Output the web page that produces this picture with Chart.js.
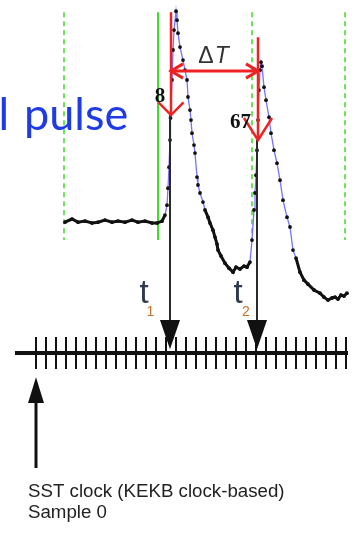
<!DOCTYPE html>
<html>
<head>
<meta charset="utf-8">
<script src="https://cdn.jsdelivr.net/npm/chart.js@4.4.1/dist/chart.umd.min.js"></script>
<style>
  html, body { margin: 0; padding: 0; background: #fff; }
  canvas { display: block; }
</style>
</head>
<body>
<canvas id="pulseChart" width="362" height="533"></canvas>
<script>
// x: SST clock samples (tick 0 = "Sample 0"), y: amplitude, baseline = 0
const sampleX = [
  2.9, 3.6, 4.2, 4.9, 5.6, 6.2, 6.9, 7.6, 8.2, 8.9, 9.6, 10.2, 10.9, 11.6, 12.1, 12.6,
  12.9, 13.1, 13.2, 13.3, 13.4, 13.45, 13.6, 13.7, 13.8, 14.0,
  14.1, 14.2, 14.4, 14.7, 14.9, 15.1, 15.2, 15.4, 15.5, 15.6, 15.8, 15.9, 16.1, 16.2, 16.4, 16.7,
  16.9, 17.2, 17.4, 17.7, 17.9, 18.1, 18.2, 18.5, 18.9, 19.3, 19.7, 20.0, 20.4, 20.8, 21.1, 21.4,
  21.6, 21.8, 21.9, 22.0, 22.1, 22.2, 22.3, 22.4, 22.5,
  22.6, 22.8, 23.0, 23.3, 23.5, 23.8, 24.1, 24.4, 24.7, 25.1, 25.4, 25.7, 26.0,
  26.4, 26.8, 27.2, 27.8, 28.4, 28.8, 29.2, 29.6, 29.9, 30.2, 30.5, 30.8, 31.1
];
const amplitude = [
  -1.0, 0.5, -1.0, -0.5, -1.4, -1.0, 0, -1.0, -0.5, -1.0, 0, -1.0, -0.5, -1.4, -1.4, -0.5,
  2.4, 7.1, 15.2, 25.2, 38.1, 48.6, 66.7, 81.0, 90.5, 99.5,
  95.2, 89.0, 82.4, 76.2, 71.4, 66.7, 58.6, 52.4, 47.6, 41.4, 35.7, 31.9, 20.5, 16.7, 12.9, 8.6,
  4.8, 1.4, -1.4, -4.8, -8.1, -11.4, -14.3, -17.1, -20.5, -22.9, -24.8, -22.4, -23.3, -21.9, -22.4, -20.0,
  -9.5, 4.8, 12.9, 21.4, 33.3, 47.6, 61.9, 71.4, 75.2,
  73.3, 63.3, 57.1, 49.0, 41.4, 33.3, 27.1, 19.0, 9.5, 1.4, -3.3, -14.3, -18.1,
  -24.8, -28.6, -30.5, -33.3, -34.8, -36.7, -38.1, -37.1, -36.7, -37.6, -35.7, -36.2, -34.8
];
// parts of the trace drawn as the thick black noisy line
const noiseRanges = [[2.9, 12.9], [16.9, 21.4], [26.0, 31.1]];

const frameEdges = [2.8, 21.6, 30.9];   // dashed green
const triggerEdge = 12.2;               // solid green
const frameTop = 99.0;
const frameBottom = -9.5;

// timing marks
const hitSamples = [13.5, 22.2];
const hitLabels = ['8', '67'];
const hitTop = [99.0, 87.1];
const hitLevel = [50.0, 38.1];
const vHalfWidth = [1.25, 1.4];
const vDepth = [6.0, 10.5];
const timeLabels = ['1', '2'];
const deltaLevel = 71.0;

// SST clock
const clockTicks = [0, 1, 2, 3, 4, 5, 6, 7, 8, 9, 10, 11, 12, 13, 14, 15,
  16, 17, 18, 19, 20, 21, 22, 23, 24, 25, 26, 27, 28, 29, 30, 31];
const clockLevel = -63.3;
const clockStart = -2.1;
const clockEnd = 31.2;
const arrowTip = -61.5;
const arrowBase = -47.6;

const pts = (xs, ys) => xs.map((v, i) => ({ x: v, y: ys[i] }));
const seg = (x1, y1, x2, y2) => [{ x: x1, y: y1 }, { x: x2, y: y2 }];

function lineSet(data, color, width, order, dash) {
  return {
    data: data,
    showLine: true,
    borderColor: color,
    borderWidth: width,
    borderDash: dash || [],
    pointRadius: 0,
    tension: 0,
    order: order,
  };
}

const datasets = [];

// green frame lines (behind everything)
frameEdges.forEach(fx => {
  datasets.push(lineSet(seg(fx, frameTop, fx, frameBottom), '#6ee25a', 2, 9, [5, 4]));
});
datasets.push(lineSet(seg(triggerEdge, frameTop, triggerEdge, frameBottom), '#3fdc2f', 2, 9));

// waveform: thin blue line with black samples
datasets.push({
  data: pts(sampleX, amplitude),
  showLine: true,
  borderColor: '#7474ff',
  borderWidth: 1.3,
  pointRadius: 1.9,
  pointBackgroundColor: '#111',
  pointBorderWidth: 0,
  tension: 0,
  order: 6,
});
noiseRanges.forEach(([a, b]) => {
  const part = pts(sampleX, amplitude).filter(p => p.x >= a && p.x <= b);
  datasets.push(lineSet(part, '#111', 3, 5));
});

// black arrows from the hits down to the clock
hitSamples.forEach((hx, i) => {
  datasets.push(lineSet(seg(hx - 0.1, hitLevel[i], hx - 0.1, arrowBase), '#2a2a2a', 2, 4));
});

// red markers, chevrons and delta-T line
hitSamples.forEach((hx, i) => {
  datasets.push(lineSet(seg(hx, hitTop[i], hx, hitLevel[i]), '#ee2222', 2.5, 2));
  datasets.push(lineSet([
    { x: hx - vHalfWidth[i], y: hitLevel[i] + vDepth[i] },
    { x: hx, y: hitLevel[i] },
    { x: hx + vHalfWidth[i], y: hitLevel[i] + vDepth[i] },
  ], '#ee2222', 2.5, 2));
});
datasets.push(lineSet(seg(hitSamples[0], deltaLevel, hitSamples[1], deltaLevel), '#ee2222', 3, 2));
datasets.push(lineSet([
  { x: hitSamples[0] + 1.2, y: deltaLevel + 3.4 },
  { x: hitSamples[0], y: deltaLevel },
  { x: hitSamples[0] + 1.2, y: deltaLevel - 3.4 },
], '#ee2222', 3, 2));
datasets.push(lineSet([
  { x: hitSamples[1] - 1.2, y: deltaLevel + 3.4 },
  { x: hitSamples[1], y: deltaLevel },
  { x: hitSamples[1] - 1.2, y: deltaLevel - 3.4 },
], '#ee2222', 3, 2));

// clock line and ticks
datasets.push(lineSet(seg(clockStart, clockLevel, clockEnd, clockLevel), '#111', 4, 3));
datasets.push({
  data: clockTicks.map(t => ({ x: t, y: clockLevel })),
  showLine: false,
  pointStyle: 'line',
  rotation: 90,
  pointRadius: 16,
  borderColor: '#111',
  borderWidth: 2,
  order: 3,
});

// "Sample 0" arrow shaft
datasets.push(lineSet(seg(clockTicks[0], -86, clockTicks[0], -118.1), '#111', 3, 3));

const notesPlugin = {
  id: 'diagramNotes',
  afterDatasetsDraw(chart) {
    const { ctx, scales: { x, y } } = chart;
    const px = v => x.getPixelForValue(v);
    const py = v => y.getPixelForValue(v);
    ctx.save();

    function head(hx, tipY, baseY, half) {
      ctx.beginPath();
      ctx.moveTo(px(hx), py(tipY));
      ctx.lineTo(px(hx - half), py(baseY));
      ctx.lineTo(px(hx + half), py(baseY));
      ctx.closePath();
      ctx.fillStyle = '#111';
      ctx.fill();
    }
    hitSamples.forEach(hx => head(hx - 0.1, arrowTip, arrowBase, 1.0));
    head(clockTicks[0], -74.8, -87.1, 0.8);

    // title fragment
    ctx.font = '45px Lato';
    ctx.fillStyle = '#1f3be6';
    ctx.textAlign = 'left';
    ctx.fillText('l', px(-3.75), py(42.9));
    ctx.fillText('pulse', px(-1.2), py(42.9));

    // hit labels
    ctx.font = 'bold 21px "Liberation Serif"';
    ctx.fillStyle = '#111';
    ctx.textAlign = 'center';
    ctx.fillText(hitLabels[0], px(12.4), py(56.2));
    ctx.textAlign = 'right';
    ctx.fillText(hitLabels[1], px(21.5), py(43.8));

    // delta T
    ctx.fillStyle = '#333';
    ctx.textAlign = 'left';
    ctx.font = '23px "Liberation Sans"';
    const dW = ctx.measureText('Δ').width;
    ctx.font = 'italic 23px "Liberation Sans"';
    const tW = ctx.measureText('T').width;
    const dx = px(17.7) - (dW + tW) / 2;
    ctx.font = '23px "Liberation Sans"';
    ctx.fillText('Δ', dx, py(74.8));
    ctx.font = 'italic 23px "Liberation Sans"';
    ctx.fillText('T', dx + dW + 1, py(74.8));

    // t1, t2
    const tX = [10.8, 20.2];
    const subX = [11.45, 21.0];
    tX.forEach((tx, i) => {
      ctx.textAlign = 'center';
      ctx.font = '33px "Liberation Sans"';
      ctx.fillStyle = '#2e3a52';
      ctx.fillText('t', px(tx), py(-39.5));
      ctx.font = '14px "Liberation Sans"';
      ctx.fillStyle = '#c4702e';
      ctx.fillText(timeLabels[i], px(subX[i]), py(-45.7));
    });

    // clock caption
    ctx.textAlign = 'left';
    ctx.font = '18.7px "Liberation Sans"';
    ctx.fillStyle = '#222';
    ctx.fillText('SST clock (KEKB clock-based)', px(-0.8), py(-131.9));
    ctx.fillText('Sample 0', px(-0.8), py(-141.9));

    ctx.restore();
  }
};

Promise.all([
  document.fonts.load('45px Lato'),
  document.fonts.load('bold 21px "Liberation Serif"'),
  document.fonts.load('18px "Liberation Sans"'),
  document.fonts.load('italic 23px "Liberation Sans"'),
]).catch(() => {}).then(() => {
  new Chart(document.getElementById('pulseChart'), {
    type: 'scatter',
    data: { datasets: datasets },
    options: {
      responsive: false,
      animation: false,
      layout: { padding: 0, autoPadding: false },
      plugins: { legend: { display: false }, tooltip: { enabled: false } },
      scales: {
        x: { type: 'linear', display: false, min: -3.6, max: 32.6 },
        y: { type: 'linear', display: false, min: -149.0, max: 104.8 },
      },
    },
    plugins: [notesPlugin],
  });
});
</script>
</body>
</html>
